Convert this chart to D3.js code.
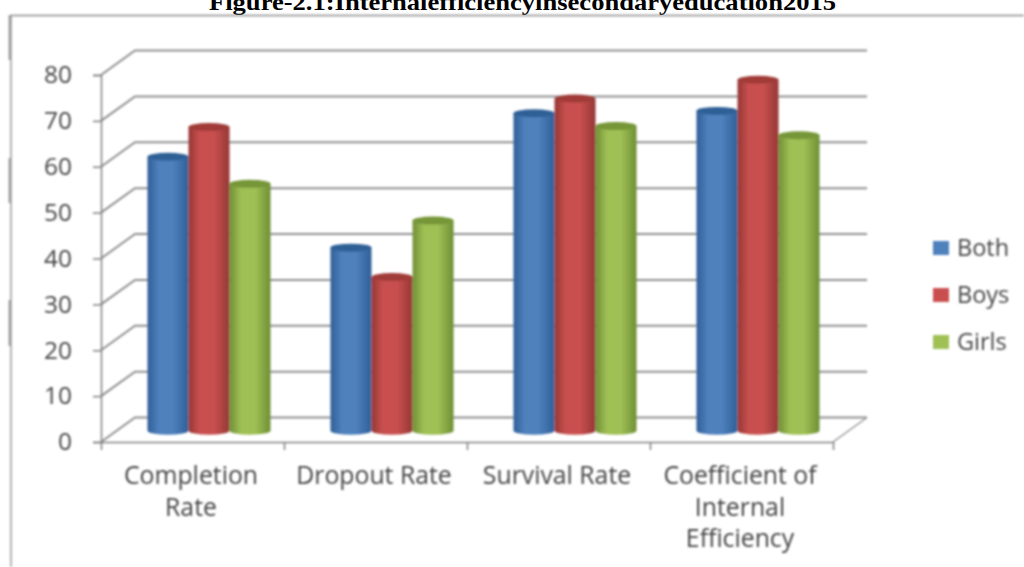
<!DOCTYPE html>
<html lang="en">
<head>
    <title>Internal efficiency</title>
    <meta charset="utf-8">
    <script src="https://d3js.org/d3.v7.min.js"></script>
    <style>
        html, body { margin: 0; padding: 0; background: #fff; overflow: hidden; }
        svg { display: block; }
        text { font-family: "Open Sans", sans-serif; fill: #444; }
    </style>
</head>
<body>
<div id="visualization"></div>
<script>
    // Data
    const categories = ["Completion Rate", "Dropout Rate", "Survival Rate", "Coefficient of Internal Efficiency"];
    const categoryLines = [["Completion", "Rate"], ["Dropout Rate"], ["Survival Rate"], ["Coefficient of", "Internal", "Efficiency"]];
    const seriesNames = ["Both", "Boys", "Girls"];
    const both = [59.5, 39.7, 69, 69.5];
    const boys = [66, 33.3, 72.2, 76.3];
    const girls = [53.6, 45.6, 66.2, 64.2];
    const yTicks = [0, 10, 20, 30, 40, 50, 60, 70, 80];
    const titleText = "Figure-2.1:Internalefficiencyinsecondaryeducation2015";

    const seriesValues = [both, boys, girls];
    const colors = [
        {dark: "#2f5f98", mid: "#4f81bd", top: "#2f6096"},
        {dark: "#953735", mid: "#c9504f", top: "#a03a38"},
        {dark: "#6f8f35", mid: "#9fc055", top: "#769639"}
    ];

    const width = 1024, height = 567;
    // Floor front edge and 3D depth offset
    const x0 = 101, x1 = 833, yBase = 442, yTop = 75;
    const depthX = 34, depthY = -24.5;

    const x = d3.scaleBand().domain(categories).range([x0, x1]);
    const y = d3.scaleLinear().domain([0, 80]).range([yBase, yTop]);
    const xSeries = d3.scaleBand().domain(seriesNames)
        .range([0, x.bandwidth()]).paddingInner(0).paddingOuter(0.73);

    const svg = d3.select("#visualization").append("svg")
        .attr("width", width).attr("height", height);

    const defs = svg.append("defs");
    const blur = defs.append("filter").attr("id", "soft")
        .attr("filterUnits", "userSpaceOnUse")
        .attr("x", 0).attr("y", 0)
        .attr("width", width).attr("height", height);
    blur.append("feGaussianBlur").attr("stdDeviation", 0.8);
    colors.forEach((c, i) => {
        const g = defs.append("linearGradient").attr("id", `bar${i}`);
        g.append("stop").attr("offset", "0%").attr("stop-color", c.dark);
        g.append("stop").attr("offset", "28%").attr("stop-color", c.mid);
        g.append("stop").attr("offset", "62%").attr("stop-color", c.mid);
        g.append("stop").attr("offset", "100%").attr("stop-color", c.dark);
    });

    // Title, cut by the top edge as in the scan
    svg.append("text")
        .attr("x", 522.5).attr("y", 9.5)
        .attr("text-anchor", "middle")
        .attr("textLength", 627)
        .attr("lengthAdjust", "spacingAndGlyphs")
        .style("font-family", '"Liberation Serif", serif')
        .style("font-weight", "bold")
        .style("font-size", "24px")
        .style("fill", "#000")
        .text(titleText);

    const chart = svg.append("g").attr("filter", "url(#soft)");

    // Page frame, with the darker bits on the left edge
    chart.append("path")
        .attr("d", `M11,${height}V15.5H${width}`)
        .attr("fill", "none").attr("stroke", "#888").attr("stroke-width", 1.3);
    const frameMarks = [[15, 60], [158, 203], [300, 346]];
    chart.selectAll("line.mark").data(frameMarks).join("line")
        .attr("class", "mark")
        .attr("x1", 9.5).attr("x2", 9.5)
        .attr("y1", d => d[0]).attr("y2", d => d[1])
        .attr("stroke", "#888").attr("stroke-width", 1.5);

    // Gridlines on the back wall, with the slanted side wall part
    const grid = chart.append("g").attr("fill", "none").attr("stroke", "#8f8f8f").attr("stroke-width", 2);
    yTicks.forEach(t => {
        grid.append("path")
            .attr("d", `M${x0},${y(t)}l${depthX},${depthY}H${x1 + depthX}`);
    });
    grid.append("path")
        .attr("d", `M${x1},${yBase}l${depthX},${depthY}`)
        .attr("stroke-width", 1.3);

    // Axes
    const yAxis = d3.axisLeft(y).tickValues(yTicks).tickSize(8).tickPadding(21);
    const xAxis = d3.axisBottom(d3.scaleLinear().domain([0, 4]).range([x0, x1]))
        .ticks(4).tickSize(8).tickFormat("");

    const yG = chart.append("g").attr("transform", `translate(${x0},0)`).call(yAxis);
    const xG = chart.append("g").attr("transform", `translate(0,${yBase})`).call(xAxis);
    [yG, xG].forEach(g => {
        g.selectAll("path, line").attr("stroke", "#7f7f7f").attr("stroke-width", 1.5);
    });
    yG.selectAll("text").style("font-size", "24.5px").style("font-family", '"Open Sans", sans-serif').style("fill", "#444");

    xG.selectAll(".domain").attr("d", `M${x0},0.5H${x1}`);

    // Cylinders stand in the middle of the floor depth
    const midX = depthX * 0.5 - 0.5, midY = depthY * 0.5;
    const rY = 4;
    const bars = chart.append("g");
    seriesNames.forEach((name, i) => {
        const g = bars.append("g");
        const bw = xSeries.bandwidth();
        const left = (c) => x(c) + xSeries(name) + midX;
        const data = categories.map((c, j) => ({c, v: seriesValues[i][j]}));

        g.selectAll("path.body").data(data).join("path")
            .attr("class", "body")
            .attr("fill", `url(#bar${i})`)
            .attr("d", d => {
                const top = y(d.v) + midY, base = yBase + midY + 1;
                const l = left(d.c), r = l + bw;
                return `M${l},${top}V${base}A${bw / 2},${rY} 0 0 0 ${r},${base}V${top}Z`;
            });

        g.selectAll("ellipse").data(data).join("ellipse")
            .attr("cx", d => left(d.c) + bw / 2)
            .attr("cy", d => y(d.v) + midY)
            .attr("rx", bw / 2)
            .attr("ry", rY)
            .attr("fill", colors[i].top);
    });

    // Category labels
    const labels = chart.append("g").attr("text-anchor", "middle").style("font-size", "24.8px");
    categories.forEach((c, i) => {
        const t = labels.append("text")
            .attr("x", x(c) + x.bandwidth() / 2 - 1.5)
            .attr("y", 484);
        categoryLines[i].forEach((line, k) => {
            t.append("tspan")
                .attr("x", x(c) + x.bandwidth() / 2 - 1.5)
                .attr("dy", k === 0 ? 0 : 31.5)
                .text(line);
        });
    });

    // Legend
    const yLegend = d3.scalePoint().domain(seriesNames).range([248, 342]);
    const legend = chart.append("g");
    legend.selectAll("rect").data(seriesNames).join("rect")
        .attr("x", 933).attr("y", d => yLegend(d) - 7)
        .attr("width", 16).attr("height", 14)
        .attr("fill", (d, i) => colors[i].mid);
    legend.selectAll("text").data(seriesNames).join("text")
        .attr("x", 957).attr("y", d => yLegend(d) + 8)
        .style("font-size", "23.5px")
        .text(d => d);
</script>
</body>
</html>
